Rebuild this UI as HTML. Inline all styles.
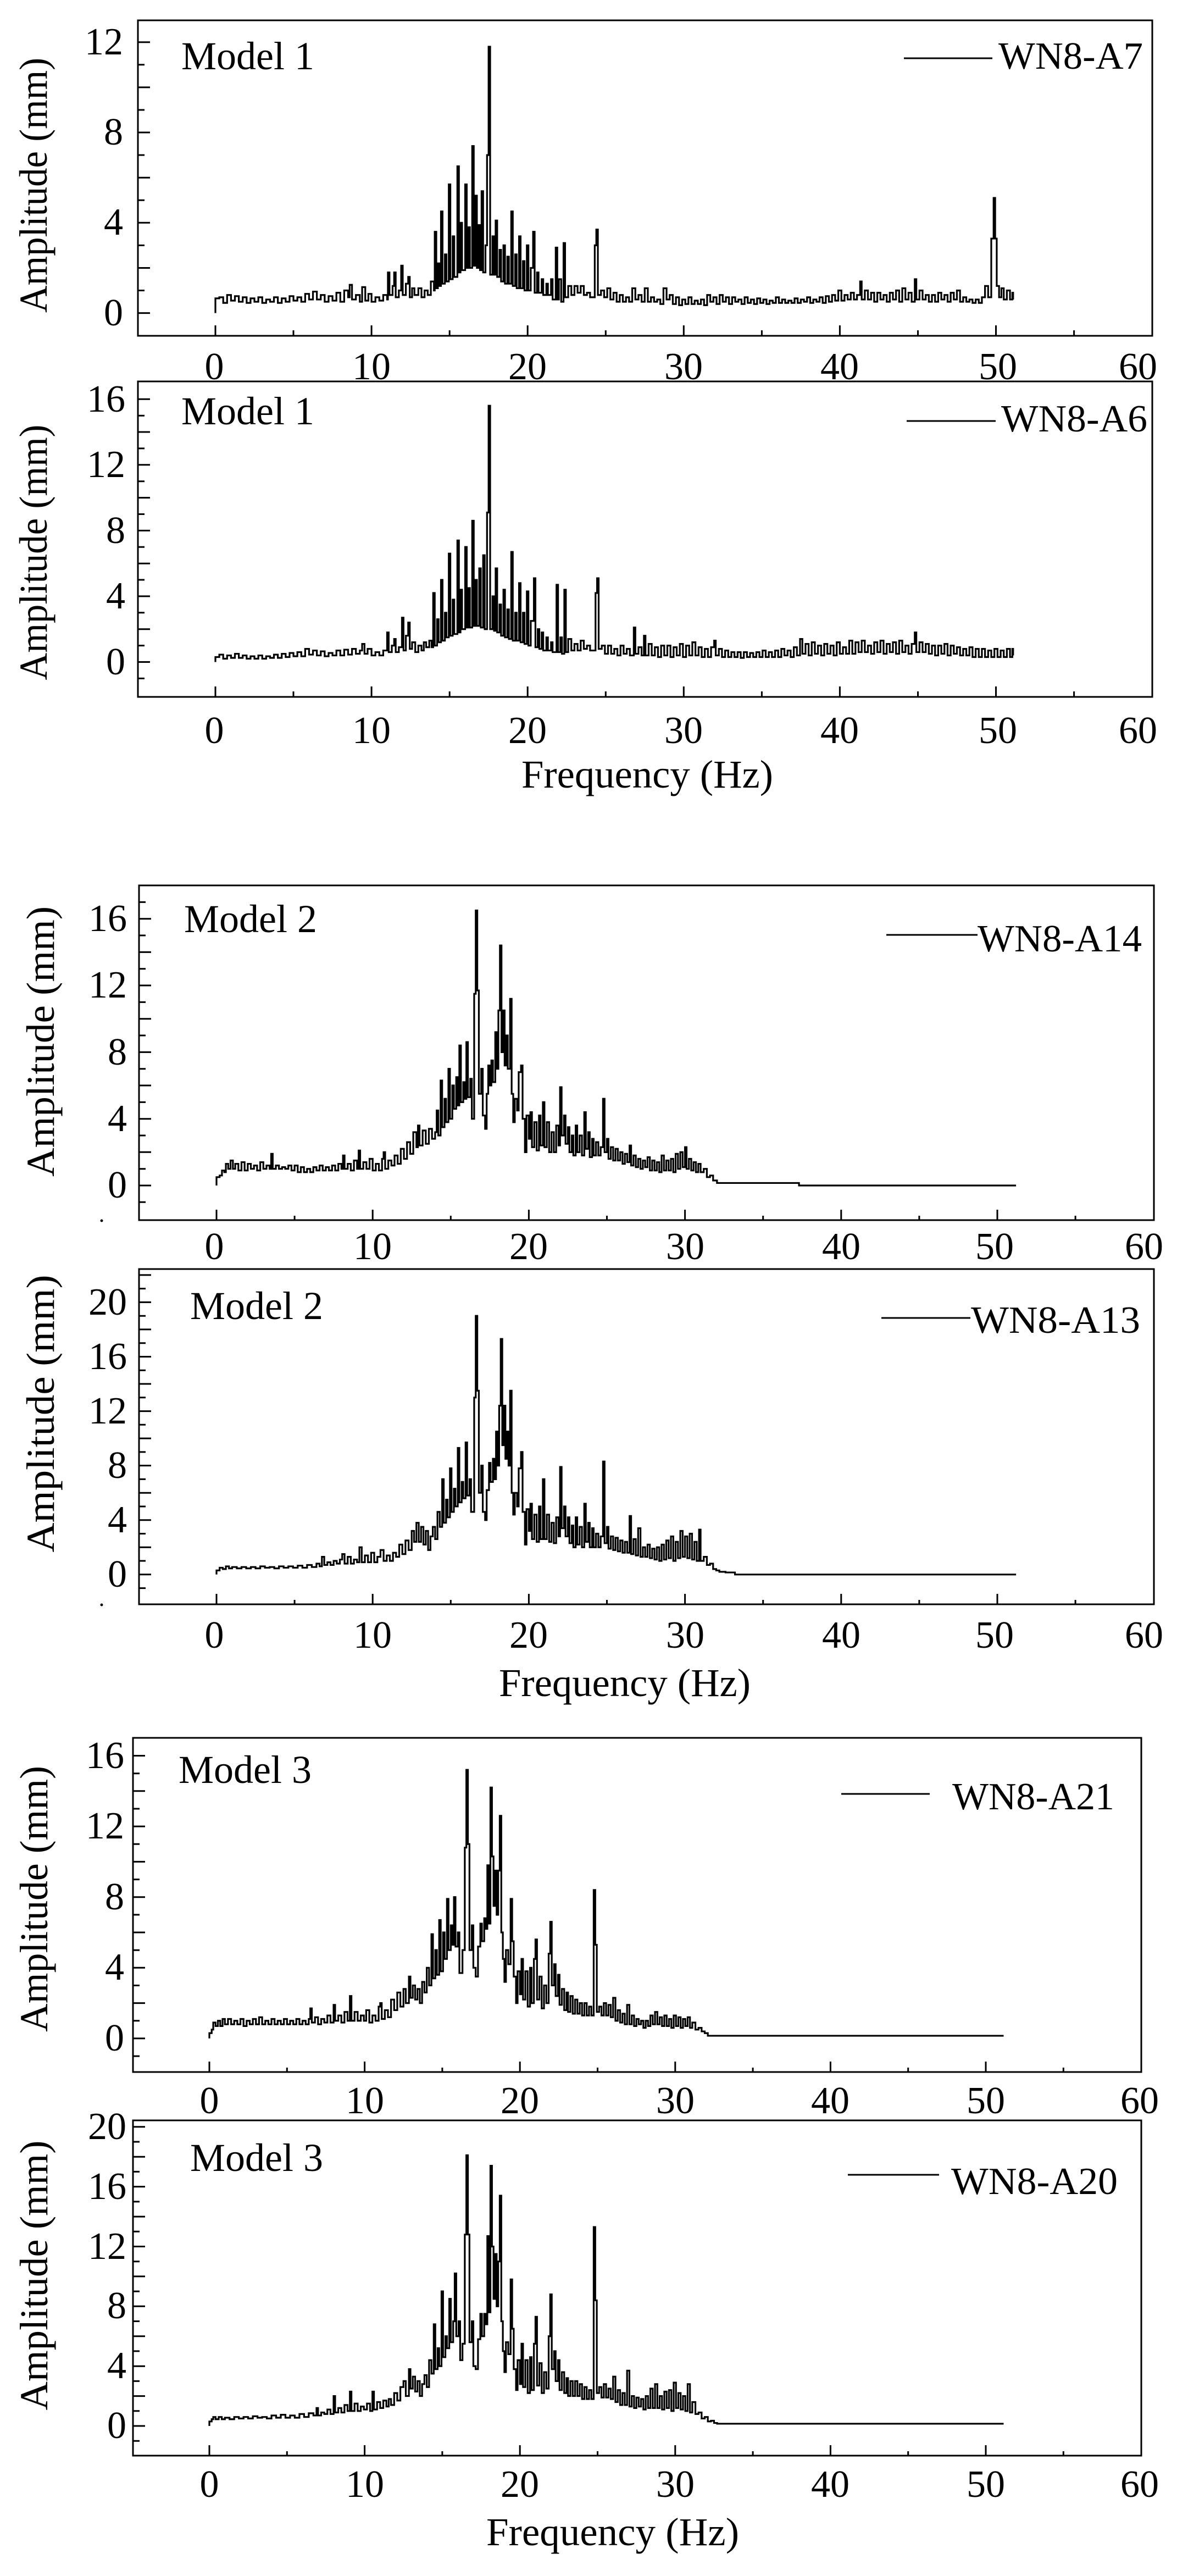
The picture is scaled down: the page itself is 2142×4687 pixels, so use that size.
<!DOCTYPE html>
<html><head><meta charset="utf-8"><style>
html,body{margin:0;padding:0;background:#fff}
svg{display:block}
text{font-family:"Liberation Serif","Times New Roman",serif;fill:#000}
.t{font-size:70px}
.m{font-size:72px}
.c{fill:none;stroke:#000;stroke-width:3.2;stroke-linejoin:miter;stroke-miterlimit:4;vector-effect:non-scaling-stroke}
.f{fill:none;stroke:#000;stroke-width:3}
</style></head><body>
<svg xmlns="http://www.w3.org/2000/svg" width="2142" height="4687" viewBox="0 0 2142 4687">
<rect width="2142" height="4687" fill="#fff"/>

<!-- ===== Panel 1 ===== -->
<rect class="f" x="251" y="37" width="1846" height="574"/>
<path class="f" d="M251 569.6h22M251 528.5h12M251 487.5h22M251 446.4h12M251 405.3h22M251 364.2h12M251 323.2h22M251 282.1h12M251 241h22M251 200h12M251 158.9h22M251 117.8h12M251 76.8h22
M392 611v-19M534 611v-10M676.1 611v-19M818.2 611v-10M960.2 611v-19M1102.3 611v-10M1244.3 611v-19M1386.4 611v-10M1528.4 611v-19M1670.5 611v-10M1812.5 611v-19M1954.6 611v-10"/>
<g class="t" text-anchor="end"><text x="224" y="99">12</text><text x="224" y="263">8</text><text x="224" y="427">4</text><text x="224" y="592">0</text></g>
<g class="t" text-anchor="middle"><text x="390" y="690">0</text><text x="676" y="690">10</text><text x="960" y="690">20</text><text x="1244" y="690">30</text><text x="1528" y="690">40</text><text x="1816" y="690">50</text><text x="2071" y="690">60</text></g>
<text class="m" x="330" y="126">Model 1</text>
<line x1="1645" y1="106" x2="1806" y2="106" stroke="#000" stroke-width="3"/>
<text class="t" x="1817" y="125" textLength="263" lengthAdjust="spacingAndGlyphs">WN8-A7</text>
<text class="m" transform="translate(85 337) rotate(-90)" text-anchor="middle" textLength="464" lengthAdjust="spacingAndGlyphs">Amplitude (mm)</text>
<path class="c" transform="translate(392 569.6) scale(28.41 -41.07)" d="M0 0V0.65H0.25V0.7H0.5V0.45H0.75V0.8H1V0.55H1.25V0.75H1.5V0.5H1.75V0.7H2V0.45H2.25V0.65H2.5V0.5H2.75V0.7H3V0.45H3.25V0.6H3.5V0.5H3.75V0.7H4V0.45H4.25V0.65H4.5V0.5H4.75V0.75H5V0.55H5.25V0.7H5.5V0.5H5.75V0.85H6V0.6H6.25V0.95H6.5V0.6H6.75V0.8H7V0.5H7.25V0.75H7.5V0.55H7.75V0.9H8V0.5H8.25V1H8.5V0.7H8.6V1.25H8.75V0.6H9V0.8H9.25V0.5H9.4V1.15H9.6V0.55H9.8V0.85H10V0.5H10.25V0.7H10.5V0.55H10.75V0.8H11V0.6H11.05V1.8H11.15V0.8H11.35V1.2H11.45V1.8H11.55V0.7H11.75V1H11.9V2.1H12V0.8H12.2V1.3H12.35V1.6H12.45V0.7H12.6V1.1H12.75V0.8H13V1.1H13.2V0.7H13.4V1H13.6V0.8H13.8V1.4H14V1H14.05V3.6H14.15V1.1H14.25V2.2H14.35V1.2H14.45V4.5H14.55V1.3H14.7V2.6H14.8V1.4H14.95V5.7H15.05V1.5H15.2V3.4H15.3V1.6H15.5V6.5H15.6V1.8H15.7V4H15.8V1.9H16V5.7H16.1V2H16.2V3.8H16.3V2H16.45V7.4H16.55V2.1H16.65V5.2H16.75V2H16.85V3.9H16.95V1.9H17.05V5.4H17.15V1.8H17.3V3H17.4V7H17.5V11.8H17.6V1.7H17.75V3.4H17.85V1.7H17.95V4.1H18.05V1.6H18.2V2.8H18.3V1.4H18.45V3H18.55V1.3H18.7V2.5H18.8V1.3H18.95V4.5H19.05V1.2H19.2V2.6H19.3V1.1H19.45V3.4H19.55V1.1H19.7V2.3H19.8V1H19.95V3H20.05V1H20.2V2H20.35V3.6H20.45V0.9H20.6V1.8H20.7V0.9H20.9V1.5H21V0.8H21.2V1.3H21.3V0.8H21.5V1.5H21.6V0.6H21.8V2.9H21.9V0.6H22V1.5H22.15V0.5H22.3V3.1H22.4V0.7H22.6V1.2H22.8V0.8H23V1.2H23.2V0.9H23.4V1.2H23.6V0.8H23.8V0.9H24V0.7H24.3V3H24.4V3.7H24.5V0.8H24.7V1H24.9V0.7H25.1V1.1H25.3V0.6H25.5V0.9H25.7V0.5H25.9V0.8H26.1V0.5H26.3V0.7H26.5V0.5H26.7V1.1H26.9V0.6H27.1V0.8H27.3V0.5H27.5V1.1H27.7V0.5H27.9V0.7H28.1V0.5H28.3V0.6H28.5V0.4H28.7V1.1H28.9V0.6H29.1V0.8H29.3V0.4H29.5V0.7H29.7V0.35H29.9V0.6H30.1V0.4H30.3V0.7H30.5V0.4H30.7V0.55H30.9V0.4H31.1V0.6H31.3V0.35H31.5V0.8H31.7V0.5H31.9V0.7H32.1V0.4H32.3V0.8H32.5V0.5H32.7V0.7H32.9V0.4H33.1V0.7H33.3V0.5H33.5V0.6H33.7V0.4H33.9V0.7H34.1V0.45H34.3V0.6H34.5V0.4H34.7V0.65H34.9V0.45H35.1V0.6H35.3V0.4H35.5V0.55H35.7V0.45H35.9V0.7H36.1V0.45H36.3V0.6H36.5V0.45H36.7V0.55H36.9V0.45H37.1V0.65H37.3V0.45H37.5V0.6H37.7V0.5H37.9V0.7H38.1V0.45H38.3V0.6H38.5V0.5H38.7V0.7H38.9V0.45H39.1V0.75H39.3V0.5H39.5V0.8H39.7V0.55H39.9V1H40.1V0.55H40.3V0.8H40.5V0.6H40.7V0.9H40.9V0.6H41.1V0.8H41.3V1.4H41.4V0.6H41.6V1H41.8V0.6H42V0.9H42.2V0.5H42.4V0.9H42.6V0.6H42.8V0.8H43V0.5H43.2V0.9H43.4V0.6H43.6V1H43.8V0.5H44V1.1H44.2V0.6H44.4V0.9H44.6V0.5H44.8V1.5H44.9V0.6H45.1V1H45.3V0.6H45.5V0.8H45.7V0.5H45.9V0.8H46.1V0.5H46.3V0.9H46.5V0.6H46.7V0.8H46.9V0.5H47.1V0.9H47.3V0.6H47.5V1H47.7V0.5H47.9V0.7H48.1V0.5H48.3V0.6H48.5V0.45H48.7V0.6H48.9V0.45H49.1V0.7H49.3V1.2H49.5V0.7H49.7V3.3H49.85V5.1H49.95V3.3H50.05V1.2H50.2V0.7H50.35V1.1H50.5V0.6H50.7V1H50.9V0.6H51.05V0.9H51.1V0.6"/>

<!-- ===== Panel 2 ===== -->
<rect class="f" x="251" y="694" width="1846" height="574"/>
<path class="f" d="M251 1234.4h12M251 1204.5h22M251 1174.6h12M251 1144.7h22M251 1114.8h12M251 1084.9h22M251 1055h12M251 1025.2h22M251 995.3h12M251 965.4h22M251 935.5h12M251 905.6h22M251 875.7h12M251 845.8h22M251 815.9h12M251 786h22M251 756.2h12M251 726.3h22
M392 1268v-19M534 1268v-10M676.1 1268v-19M818.2 1268v-10M960.2 1268v-19M1102.3 1268v-10M1244.3 1268v-19M1386.4 1268v-10M1528.4 1268v-19M1670.5 1268v-10M1812.5 1268v-19M1954.6 1268v-10"/>
<g class="t" text-anchor="end"><text x="228" y="749">16</text><text x="228" y="868">12</text><text x="228" y="988">8</text><text x="228" y="1107">4</text><text x="228" y="1227">0</text></g>
<g class="t" text-anchor="middle"><text x="390" y="1352">0</text><text x="676" y="1352">10</text><text x="960" y="1352">20</text><text x="1244" y="1352">30</text><text x="1528" y="1352">40</text><text x="1816" y="1352">50</text><text x="2071" y="1352">60</text></g>
<text class="m" x="330" y="772">Model 1</text>
<line x1="1650" y1="766" x2="1812" y2="766" stroke="#000" stroke-width="3"/>
<text class="t" x="1822" y="785" textLength="266" lengthAdjust="spacingAndGlyphs">WN8-A6</text>
<text class="m" transform="translate(85 1005) rotate(-90)" text-anchor="middle" textLength="465" lengthAdjust="spacingAndGlyphs">Amplitude (mm)</text>
<text class="m" x="949" y="1433" textLength="458" lengthAdjust="spacingAndGlyphs">Frequency (Hz)</text>
<path class="c" transform="translate(392 1204.5) scale(28.41 -29.89)" d="M0 0V0.3H0.25V0.45H0.5V0.2H0.75V0.4H1V0.25H1.25V0.5H1.5V0.25H1.75V0.4H2V0.2H2.25V0.35H2.5V0.2H2.75V0.4H3V0.2H3.25V0.35H3.5V0.25H3.75V0.45H4V0.25H4.25V0.5H4.5V0.3H4.75V0.55H5V0.35H5.25V0.6H5.5V0.35H5.75V0.8H6V0.45H6.25V0.7H6.5V0.4H6.75V0.65H7V0.35H7.25V0.55H7.5V0.4H7.75V0.7H8V0.4H8.25V0.75H8.5V0.45H8.75V0.8H9V0.5H9.25V0.7H9.4V1.1H9.55V0.5H9.75V0.8H10V0.4H10.25V0.6H10.5V0.4H10.75V0.7H11V1.8H11.1V0.6H11.3V1H11.45V1.4H11.55V0.6H11.75V0.9H11.95V2.7H12.05V0.7H12.2V1.6H12.35V2.4H12.45V0.8H12.6V1.2H12.8V0.6H13V1H13.2V0.7H13.35V1.2H13.5V0.9H13.7V1.3H13.85V0.9H13.95V4.2H14.05V1H14.2V2.6H14.3V1.2H14.45V5H14.55V1.3H14.7V3H14.8V1.5H14.95V6.6H15.05V1.6H15.2V3.8H15.3V1.7H15.5V7.4H15.6V1.8H15.7V4.4H15.8V2H16V7H16.1V2.1H16.2V4.5H16.3V2.1H16.45V8.6H16.55V2.2H16.65V5H16.75V2.2H16.9V5.7H17V2.1H17.15V6.5H17.25V2H17.4V9.1H17.5V15.6H17.6V2H17.75V4H17.85V1.9H17.95V5.7H18.05V1.8H18.2V3.5H18.3V1.6H18.45V4.4H18.55V1.5H18.7V3.2H18.8V1.4H18.95V6.7H19.05V1.3H19.2V3H19.3V1.3H19.45V4.8H19.55V1.2H19.7V3H19.8V1.1H19.95V4.3H20.05V1H20.2V2.5H20.4V5.1H20.5V0.9H20.65V2H20.75V0.8H20.9V1.8H21V0.7H21.2V1.5H21.3V0.7H21.5V1.2H21.6V0.6H21.85V4.7H21.95V0.6H22.1V1.5H22.2V0.5H22.35V4.4H22.45V0.6H22.6V1.4H22.8V0.7H23V1.1H23.2V0.7H23.4V1.3H23.6V0.8H23.8V1H24V0.7H24.35V4.2H24.45V5.1H24.55V0.8H24.75V1H24.95V0.5H25.15V1H25.35V0.5H25.55V0.8H25.75V0.4H25.95V1H26.15V0.5H26.35V0.8H26.55V0.4H26.8V2.1H26.9V0.5H27.1V0.9H27.3V0.4H27.45V1.6H27.55V0.4H27.75V1.1H27.95V0.4H28.15V0.9H28.35V0.3H28.55V1H28.75V0.4H28.95V1H29.15V0.3H29.35V0.9H29.55V0.4H29.75V1.1H29.95V0.3H30.15V1H30.35V0.4H30.55V1.2H30.75V0.4H30.95V0.9H31.15V0.3H31.35V0.8H31.55V0.3H31.75V0.9H31.95V1.3H32.05V0.4H32.25V0.8H32.45V0.3H32.65V0.7H32.85V0.3H33.05V0.6H33.25V0.3H33.45V0.6H33.65V0.25H33.85V0.6H34.05V0.3H34.25V0.55H34.45V0.3H34.65V0.6H34.85V0.3H35.05V0.7H35.25V0.3H35.45V0.6H35.65V0.3H35.85V0.7H36.05V0.3H36.25V0.8H36.45V0.4H36.65V0.7H36.85V0.3H37.05V0.9H37.25V0.4H37.45V1.4H37.6V0.5H37.8V1.1H38V0.4H38.2V1.2H38.4V0.5H38.6V1H38.8V0.4H39V1.1H39.2V0.5H39.4V1H39.6V0.4H39.8V1.2H40V0.5H40.2V0.9H40.4V0.5H40.6V1.3H40.8V0.5H41V1.2H41.2V0.6H41.4V1.3H41.6V0.6H41.8V1H42V0.5H42.2V1.2H42.4V0.6H42.6V1.3H42.8V0.5H43V1.1H43.2V0.6H43.4V1.2H43.6V0.5H43.8V1.3H44V0.6H44.2V1H44.4V0.5H44.6V1.1H44.8V1.8H44.9V0.6H45.1V1.2H45.3V0.6H45.5V1.1H45.7V0.5H45.9V1H46.1V0.4H46.3V1H46.5V0.5H46.7V1.1H46.9V0.4H47.1V1H47.3V0.5H47.5V0.9H47.7V0.4H47.9V0.8H48.1V0.4H48.3V0.9H48.5V0.3H48.7V0.8H48.9V0.3H49.1V0.8H49.3V0.3H49.5V0.7H49.7V0.3H49.9V0.8H50.1V0.3H50.3V0.7H50.5V0.3H50.7V0.8H50.9V0.3H51.05V0.8H51.1V0.4"/>

<!-- ===== Panel 3 ===== -->
<rect class="f" x="253" y="1611" width="1847" height="609"/>
<path class="f" d="M253 2187.3h12M253 2157h22M253 2126.7h12M253 2096.3h22M253 2066h12M253 2035.7h22M253 2005.4h12M253 1975h22M253 1944.7h12M253 1914.4h22M253 1884h12M253 1853.7h22M253 1823.4h12M253 1793h22M253 1762.7h12M253 1732.4h22M253 1702h12M253 1671.7h22M253 1641.4h12
M394 2220v-19M536.1 2220v-8M678.2 2220v-19M820.3 2220v-8M962.4 2220v-19M1104.5 2220v-8M1246.6 2220v-19M1388.7 2220v-8M1530.8 2220v-19M1672.9 2220v-8M1815 2220v-19M1957.1 2220v-8"/>
<circle cx="185" cy="2221" r="2.5" fill="#000"/>
<g class="t" text-anchor="end"><text x="231" y="1694">16</text><text x="231" y="1815">12</text><text x="231" y="1937">8</text><text x="231" y="2058">4</text><text x="231" y="2179">0</text></g>
<g class="t" text-anchor="middle"><text x="390" y="2291">0</text><text x="678" y="2291">10</text><text x="962" y="2291">20</text><text x="1247" y="2291">30</text><text x="1531" y="2291">40</text><text x="1810" y="2291">50</text><text x="2082" y="2291">60</text></g>
<text class="m" x="335" y="1696">Model 2</text>
<line x1="1613" y1="1701" x2="1779" y2="1701" stroke="#000" stroke-width="3"/>
<text class="t" x="1779" y="1731" textLength="299" lengthAdjust="spacingAndGlyphs">WN8-A14</text>
<text class="m" transform="translate(98 1895) rotate(-90)" text-anchor="middle" textLength="492" lengthAdjust="spacingAndGlyphs">Amplitude (mm)</text>
<path class="c" transform="translate(394 2157) scale(28.42 -30.33)" d="M0 0V0.5H0.2V0.6H0.35V0.9H0.5V0.8H0.6V1.3H0.75V1H0.9V1.5H1.05V1H1.2V1.3H1.4V0.9H1.6V1.4H1.8V0.9H2V1.3H2.2V1H2.4V1.2H2.6V0.9H2.8V1.4H3V1H3.2V1.2H3.4V1H3.5V1.9H3.6V1H3.8V1.2H4V1H4.2V1.1H4.4V1H4.6V1.2H4.8V0.9H5V1.2H5.2V0.8H5.4V1.1H5.6V0.8H5.8V1H6V0.8H6.2V1.1H6.4V0.9H6.6V1.2H6.8V0.9H7V1.1H7.2V0.9H7.4V1.2H7.6V0.9H7.8V1.3H8V1H8.1V1.8H8.2V1H8.4V1.3H8.6V0.9H8.8V1.5H9V1H9.1V2.1H9.2V1H9.4V1.4H9.6V1H9.8V1.6H10V0.9H10.2V1.3H10.4V0.9H10.6V1.6H10.7V2H10.8V1H11V1.5H11.2V1.2H11.4V1.8H11.6V1.3H11.8V2.2H12V1.6H12.2V2.6H12.4V1.9H12.6V3.2H12.8V2.3H12.9V3.6H13V2.4H13.2V3.3H13.4V2.5H13.6V3.4H13.8V2.8H14V3.2H14.1V4.5H14.2V3H14.35V6.3H14.45V3.5H14.6V5.2H14.7V3.8H14.85V7H14.95V4H15.1V6H15.2V4.6H15.35V6.5H15.45V4.8H15.55V8.4H15.65V5H15.8V6.2H15.9V5.2H16V8.6H16.1V5.3H16.25V6.4H16.35V4H16.5V11.5H16.6V16.5H16.7V11.7H16.8V5.5H16.95V7H17.05V4.2H17.2V3.4H17.3V5.5H17.4V7.2H17.5V6H17.6V7.5H17.7V6.2H17.85V9.2H17.95V7H18.05V10.5H18.15V14.4H18.25V8H18.35V10.5H18.45V7.2H18.55V9H18.65V7H18.8V11.2H18.9V5.5H19V3.8H19.1V5.2H19.25V4.5H19.35V6.8H19.5V7.2H19.6V4H19.75V2H19.85V4.2H20V2.8H20.1V4.4H20.2V2.3H20.35V3.8H20.5V2.1H20.65V4.2H20.75V2.4H20.9V5H21V2.3H21.15V3.8H21.3V2H21.45V3.2H21.6V2H21.75V3.6H21.9V2.4H22V5.9H22.1V3H22.25V4.2H22.35V2.5H22.5V3.5H22.6V2H22.75V3H22.85V1.8H23V3.6H23.1V2H23.25V3H23.4V1.8H23.55V4.4H23.65V2.2H23.8V3.2H23.9V1.7H24.05V2.8H24.15V1.8H24.3V2.6H24.45V1.8H24.6V2.3H24.75V5.2H24.85V2H25V2.8H25.1V1.6H25.25V2.3H25.4V1.5H25.55V2.2H25.7V1.5H25.85V2H26V1.3H26.15V1.9H26.3V1.4H26.45V2.4H26.55V1.2H26.7V1.8H26.85V1.1H27V1.6H27.15V1H27.3V1.5H27.45V1.1H27.6V1.7H27.75V0.9H27.9V1.5H28.05V0.9H28.2V1.4H28.35V0.8H28.5V1.8H28.65V0.9H28.8V1.5H28.95V0.9H29.1V1.6H29.25V0.8H29.4V1.9H29.55V1H29.7V2H29.85V1.1H30V2.3H30.1V1H30.25V1.6H30.4V0.9H30.55V1.4H30.7V0.8H30.85V1.3H31V0.8H31.2V1H31.4V0.5H31.6V0.6H31.8V0.3H32V0.3H32.05V0.15H37.3V0H51.2"/>

<!-- ===== Panel 4 ===== -->
<rect class="f" x="253" y="2309" width="1847" height="610"/>
<path class="f" d="M253 2889.6h12M253 2864.8h22M253 2840h12M253 2815.3h22M253 2790.5h12M253 2765.7h22M253 2741h12M253 2716.2h22M253 2691.4h12M253 2666.6h22M253 2641.9h12M253 2617.1h22M253 2592.3h12M253 2567.6h22M253 2542.8h12M253 2518h22M253 2493.3h12M253 2468.5h22M253 2443.7h12M253 2418.9h22M253 2394.2h12M253 2369.4h22M253 2344.6h12M253 2319.9h22
M394 2919v-19M536.1 2919v-8M678.2 2919v-19M820.3 2919v-8M962.4 2919v-19M1104.5 2919v-8M1246.6 2919v-19M1388.7 2919v-8M1530.8 2919v-19M1672.9 2919v-8M1815 2919v-19M1957.1 2919v-8"/>
<circle cx="185" cy="2920" r="2.5" fill="#000"/>
<g class="t" text-anchor="end"><text x="231" y="2392">20</text><text x="231" y="2491">16</text><text x="231" y="2590">12</text><text x="231" y="2689">8</text><text x="231" y="2788">4</text><text x="231" y="2887">0</text></g>
<g class="t" text-anchor="middle"><text x="390" y="2998">0</text><text x="678" y="2998">10</text><text x="962" y="2998">20</text><text x="1247" y="2998">30</text><text x="1531" y="2998">40</text><text x="1810" y="2998">50</text><text x="2082" y="2998">60</text></g>
<text class="m" x="346" y="2400">Model 2</text>
<line x1="1604" y1="2398" x2="1766" y2="2398" stroke="#000" stroke-width="3"/>
<text class="t" x="1767" y="2425" textLength="308" lengthAdjust="spacingAndGlyphs">WN8-A13</text>
<text class="m" transform="translate(98 2572) rotate(-90)" text-anchor="middle" textLength="505" lengthAdjust="spacingAndGlyphs">Amplitude (mm)</text>
<text class="m" x="908" y="3086" textLength="458" lengthAdjust="spacingAndGlyphs">Frequency (Hz)</text>
<path class="c" transform="translate(394 2864.8) scale(28.42 -24.77)" d="M0 0V0.3H0.2V0.5H0.4V0.4H0.6V0.6H0.8V0.45H1V0.55H1.3V0.45H1.6V0.55H1.9V0.45H2.2V0.55H2.5V0.45H2.8V0.6H3.1V0.5H3.4V0.55H3.7V0.45H4V0.6H4.3V0.5H4.6V0.6H4.9V0.5H5.2V0.65H5.5V0.5H5.8V0.7H6.1V0.55H6.4V0.8H6.6V0.6H6.75V1.3H6.9V0.7H7.1V0.9H7.3V0.7H7.5V1H7.7V0.8H7.9V1.1H8.05V1.5H8.2V0.8H8.4V1.3H8.6V0.8H8.8V1.1H9V0.9H9.15V2H9.3V0.9H9.5V1.4H9.7V0.9H9.9V1.6H10.1V0.9H10.3V1.3H10.5V1.8H10.7V1H10.9V1.4H11.1V1H11.3V1.6H11.5V1.3H11.7V2.2H11.9V1.5H12.1V2.5H12.3V1.8H12.5V3.2H12.65V2.4H12.8V3.8H12.95V2.4H13.1V3.5H13.25V2.2H13.4V3.2H13.55V1.8H13.7V2.8H13.85V3.5H14V2.6H14.15V4.6H14.3V3.5H14.45V7H14.55V3.8H14.7V5.5H14.8V4.2H14.95V7.8H15.05V4.6H15.2V6.3H15.3V5H15.45V9.3H15.55V5.3H15.7V6.8H15.8V5.6H15.95V9.7H16.05V5.8H16.2V7H16.3V4.6H16.5V13H16.6V19H16.7V13.5H16.8V6H16.95V8H17.05V4.6H17.2V4H17.3V6.2H17.45V8.2H17.55V6.8H17.7V8.5H17.8V7H17.9V10.5H18V8H18.1V12.4H18.2V17.3H18.3V9.5H18.4V12.4H18.5V8.5H18.6V10.5H18.7V8H18.8V13.5H18.9V6H19V4.4H19.1V6H19.25V5H19.35V7.8H19.5V9H19.6V4.6H19.75V2.2H19.85V4.8H20V3.2H20.1V5.2H20.2V2.6H20.35V4.4H20.5V2.4H20.65V5H20.75V2.6H20.9V7H21V2.6H21.15V4.4H21.3V2.4H21.45V3.8H21.6V2.3H21.75V4.2H21.9V2.8H22V7.9H22.1V3.4H22.25V5H22.35V2.8H22.5V4.2H22.6V2.3H22.75V3.6H22.85V2H23V4.2H23.1V2.2H23.25V3.5H23.4V2H23.55V5.2H23.65V2.4H23.8V3.8H23.9V2H24.05V3.4H24.15V2H24.3V3H24.45V2H24.6V2.8H24.75V8.3H24.85V2.3H25V3.5H25.1V1.9H25.25V2.8H25.4V1.8H25.55V2.7H25.7V1.7H25.85V2.5H26V1.6H26.15V2.4H26.3V1.6H26.45V4.3H26.55V1.5H26.7V2.6H26.85V1.4H27V3.4H27.15V1.3H27.3V2H27.45V1.3H27.6V2.2H27.75V1.2H27.9V1.9H28.05V1.1H28.2V2H28.35V1H28.5V2.2H28.65V1.1H28.8V2.5H28.95V1.2H29.1V2.8H29.25V1H29.4V2.4H29.55V1.2H29.7V3.2H29.85V1.3H30V2.8H30.15V1.2H30.3V3H30.45V1.1H30.6V2.4H30.75V1H30.9V3.3H31V1H31.2V1.3H31.4V0.7H31.6V0.8H31.8V0.4H32V0.3H32.2V0.2H32.6V0.15H33.2V0H51.2"/>

<!-- ===== Panel 5 ===== -->
<rect class="f" x="242" y="3162" width="1835" height="608"/>
<path class="f" d="M242 3741.1h12M242 3708.9h22M242 3676.8h12M242 3644.6h22M242 3612.5h12M242 3580.3h22M242 3548.2h12M242 3516h22M242 3483.9h12M242 3451.7h22M242 3419.6h12M242 3387.4h22M242 3355.3h12M242 3323.1h22M242 3291h12M242 3258.8h22M242 3226.7h12M242 3194.5h22
M381 3770v-19M522.3 3770v-8M663.6 3770v-19M804.9 3770v-8M946.2 3770v-19M1087.5 3770v-8M1228.8 3770v-19M1370.1 3770v-8M1511.4 3770v-19M1652.7 3770v-8M1794 3770v-19M1935.3 3770v-8"/>
<g class="t" text-anchor="end"><text x="226" y="3217">16</text><text x="226" y="3345">12</text><text x="226" y="3474">8</text><text x="226" y="3602">4</text><text x="226" y="3731">0</text></g>
<g class="t" text-anchor="middle"><text x="381" y="3845">0</text><text x="664" y="3845">10</text><text x="946" y="3845">20</text><text x="1229" y="3845">30</text><text x="1511" y="3845">40</text><text x="1794" y="3845">50</text><text x="2074" y="3845">60</text></g>
<text class="m" x="325" y="3244">Model 3</text>
<line x1="1531" y1="3264" x2="1692" y2="3264" stroke="#000" stroke-width="3"/>
<text class="t" x="1733" y="3292" textLength="295" lengthAdjust="spacingAndGlyphs">WN8-A21</text>
<text class="m" transform="translate(86 3455) rotate(-90)" text-anchor="middle" textLength="484" lengthAdjust="spacingAndGlyphs">Amplitude (mm)</text>
<path class="c" transform="translate(381 3708.9) scale(28.26 -32.15)" d="M0 0V0.3H0.15V0.5H0.25V0.9H0.4V0.7H0.55V1H0.7V0.7H0.85V1.1H1V0.8H1.2V1.1H1.4V0.8H1.6V1H1.8V0.8H2V1.1H2.2V0.7H2.4V1H2.6V0.8H2.8V1.1H3V0.8H3.2V1.2H3.4V0.8H3.6V1H3.8V0.8H4V1.1H4.2V0.8H4.4V1H4.6V0.8H4.8V1.1H5V0.8H5.2V1H5.4V0.8H5.6V1.1H5.8V0.8H6V1H6.2V0.8H6.4V1.1H6.5V1.7H6.6V0.9H6.8V1.2H7V0.8H7.2V1.1H7.4V0.9H7.6V1.3H7.8V0.9H8V1.9H8.1V1H8.3V1.3H8.5V0.9H8.7V1.5H8.9V1H9.05V2.4H9.15V1H9.35V1.5H9.55V1H9.75V1.3H9.95V1H10.1V1.6H10.3V0.9H10.5V1.3H10.7V1H10.9V1.8H11V2H11.1V1.1H11.3V1.6H11.5V1.2H11.7V2.2H11.9V1.6H12.1V2.6H12.3V1.8H12.5V2.8H12.65V2H12.85V3.5H12.95V2.3H13.1V3H13.25V2.2H13.4V2.8H13.55V2H13.7V3.2H13.85V2.6H14V4H14.15V3H14.3V5.9H14.4V3.4H14.55V5H14.65V3.6H14.8V6.7H14.9V3.8H15.05V6H15.15V4.5H15.3V7.9H15.4V5H15.55V6.4H15.65V5.3H15.75V8H15.85V5.2H16V6H16.1V3.7H16.3V5H16.45V10.8H16.55V15.2H16.65V11H16.75V5H16.9V6.4H17V4H17.15V3.5H17.3V5.2H17.45V6.5H17.55V5.5H17.7V6.8H17.8V6.2H17.9V9.8H18V6.5H18.1V14.2H18.2V10.3H18.3V7.5H18.4V9.5H18.5V7H18.6V9.5H18.7V12.6H18.8V6H18.9V4.5H19V3.2H19.1V5H19.25V4.2H19.4V7.9H19.5V5.5H19.6V3.5H19.75V2H19.85V3.8H20V2.5H20.1V4.5H20.2V2.2H20.35V3.8H20.5V1.8H20.65V4H20.75V2H20.9V4.5H21V5.6H21.1V2.2H21.25V3.5H21.4V1.7H21.55V3H21.7V2H21.85V4.8H21.95V6.6H22.05V3H22.2V4.2H22.3V2.4H22.45V3.6H22.55V1.9H22.7V2.8H22.85V1.6H23V2.6H23.1V1.5H23.25V2.4H23.4V1.4H23.55V2.2H23.7V1.4H23.85V2H24V1.3H24.15V2H24.3V1.3H24.45V1.8H24.6V1.3H24.75V8.4H24.85V5.3H24.95V1.5H25.1V1.8H25.25V1.3H25.4V2H25.55V1.3H25.7V1.9H25.85V1.2H26V2.3H26.15V1H26.3V1.6H26.45V0.9H26.6V1.4H26.75V0.8H26.9V1.9H27.05V0.8H27.2V1.3H27.35V0.7H27.5V1.1H27.65V0.8H27.8V1H27.95V0.6H28.1V1H28.25V0.7H28.4V1.3H28.55V0.8H28.7V1.5H28.85V0.8H29V1.2H29.15V0.7H29.3V1.3H29.45V0.7H29.6V1.1H29.75V0.6H29.9V1.3H30.05V0.7H30.2V1.2H30.35V0.6H30.5V1.1H30.65V0.7H30.8V1.2H30.95V0.6H31.1V0.9H31.3V0.5H31.5V0.6H31.7V0.4H31.9V0.3H32.1V0.15H51.15"/>

<!-- ===== Panel 6 ===== -->
<rect class="f" x="242" y="3858" width="1835" height="610"/>
<path class="f" d="M242 4441.2h12M242 4414h22M242 4386.8h12M242 4359.6h22M242 4332.4h12M242 4305.2h22M242 4277.9h12M242 4250.7h22M242 4223.5h12M242 4196.3h22M242 4169.1h12M242 4141.9h22M242 4114.7h12M242 4087.5h22M242 4060.3h12M242 4033.1h22M242 4005.9h12M242 3978.6h22M242 3951.4h12M242 3924.2h22M242 3897h12M242 3869.8h22
M381 4468v-19M522.3 4468v-8M663.6 4468v-19M804.9 4468v-8M946.2 4468v-19M1087.5 4468v-8M1228.8 4468v-19M1370.1 4468v-8M1511.4 4468v-19M1652.7 4468v-8M1794 4468v-19M1935.3 4468v-8"/>
<g class="t" text-anchor="end"><text x="230" y="3892">20</text><text x="230" y="4001">16</text><text x="230" y="4110">12</text><text x="230" y="4218">8</text><text x="230" y="4327">4</text><text x="230" y="4436">0</text></g>
<g class="t" text-anchor="middle"><text x="381" y="4543">0</text><text x="664" y="4543">10</text><text x="946" y="4543">20</text><text x="1229" y="4543">30</text><text x="1511" y="4543">40</text><text x="1794" y="4543">50</text><text x="2074" y="4543">60</text></g>
<text class="m" x="346" y="3950">Model 3</text>
<line x1="1543" y1="3957" x2="1709" y2="3957" stroke="#000" stroke-width="3"/>
<text class="t" x="1731" y="3992" textLength="303" lengthAdjust="spacingAndGlyphs">WN8-A20</text>
<text class="m" transform="translate(86 4140) rotate(-90)" text-anchor="middle" textLength="491" lengthAdjust="spacingAndGlyphs">Amplitude (mm)</text>
<text class="m" x="885" y="4631" textLength="460" lengthAdjust="spacingAndGlyphs">Frequency (Hz)</text>
<path class="c" transform="translate(381 4414) scale(28.26 -27.21)" d="M0 0V0.3H0.15V0.45H0.25V0.6H0.4V0.45H0.6V0.6H0.8V0.45H1V0.55H1.3V0.45H1.6V0.6H1.9V0.5H2.2V0.6H2.5V0.5H2.8V0.65H3.1V0.55H3.4V0.6H3.7V0.5H4V0.7H4.3V0.55H4.6V0.75H4.9V0.55H5.2V0.7H5.5V0.55H5.8V0.8H6.1V0.6H6.4V0.85H6.7V0.7H6.9V1.2H7V0.7H7.2V0.9H7.4V0.8H7.6V1.1H7.8V0.8H8V2H8.1V0.9H8.3V1.2H8.5V0.9H8.7V1.4H8.9V1H9.05V2.3H9.15V1H9.35V1.5H9.55V1H9.75V1.3H9.95V1.1H10.15V1.5H10.35V1H10.5V2.3H10.6V1.1H10.8V1.6H11V1.2H11.2V1.7H11.4V1.3H11.55V1.8H11.7V1.4H11.9V2.2H12.1V1.7H12.3V2.6H12.5V3H12.65V2H12.85V3.8H12.95V2.5H13.1V3.3H13.25V2.3H13.4V3H13.55V2H13.7V2.8H13.85V3.4H14V2.6H14.15V4.4H14.3V3.5H14.45V6.8H14.55V3.8H14.7V5.2H14.8V4H14.95V9H15.05V4.6H15.2V6H15.3V5.2H15.45V8.5H15.55V5.6H15.7V7H15.8V10.2H15.9V6H16.05V7H16.15V4.4H16.3V5.5H16.45V12.8H16.55V18.1H16.65V12.8H16.75V5.6H16.9V7H17V4H17.15V3.8H17.3V5.8H17.45V7.5H17.55V6H17.7V7.5H17.8V6.8H17.9V12.7H18V7.6H18.1V17.4H18.2V12H18.3V8.5H18.4V11.5H18.5V8H18.6V11H18.7V15.4H18.8V7H18.9V5H19V3.6H19.1V5.6H19.25V4.8H19.4V9.8H19.5V6.5H19.6V3.8H19.75V2.4H19.85V4.4H20V2.8H20.1V5.5H20.2V2.6H20.35V4.4H20.5V2.2H20.65V4.6H20.75V2.4H20.9V5.5H21V7.3H21.1V2.7H21.25V4.2H21.4V2.2H21.55V3.6H21.7V2.5H21.85V6H21.95V8.8H22.05V3.8H22.2V5H22.3V3H22.45V4.4H22.55V2.4H22.7V3.6H22.85V2.2H23V3.2H23.1V2H23.25V3H23.4V2H23.55V3H23.7V2H23.85V2.8H24V1.8H24.15V2.6H24.3V1.8H24.45V2.4H24.6V1.8H24.75V13.3H24.85V8.4H24.95V2.2H25.1V2.6H25.25V1.9H25.4V2.8H25.55V1.9H25.7V2.5H25.85V1.8H26V3.3H26.15V1.6H26.3V2.4H26.45V1.4H26.6V2.2H26.75V1.4H26.9V3.7H27.05V1.3H27.2V2H27.35V1.2H27.5V1.9H27.65V1.3H27.8V1.8H27.95V1.1H28.1V2H28.25V1.2H28.4V2.5H28.55V1.2H28.7V2.8H28.85V1.2H29V2H29.15V1.1H29.3V2.3H29.45V1.2H29.6V2.4H29.75V1H29.9V2.9H30.05V1.2H30.2V2.2H30.35V1.1H30.5V2H30.65V1H30.8V2.8H30.95V0.9H31.1V1.6H31.3V0.8H31.5V0.9H31.7V0.5H31.9V0.6H32.1V0.3H32.3V0.35H32.5V0.2H32.7V0.15H51.15"/>
</svg>
</body></html>
